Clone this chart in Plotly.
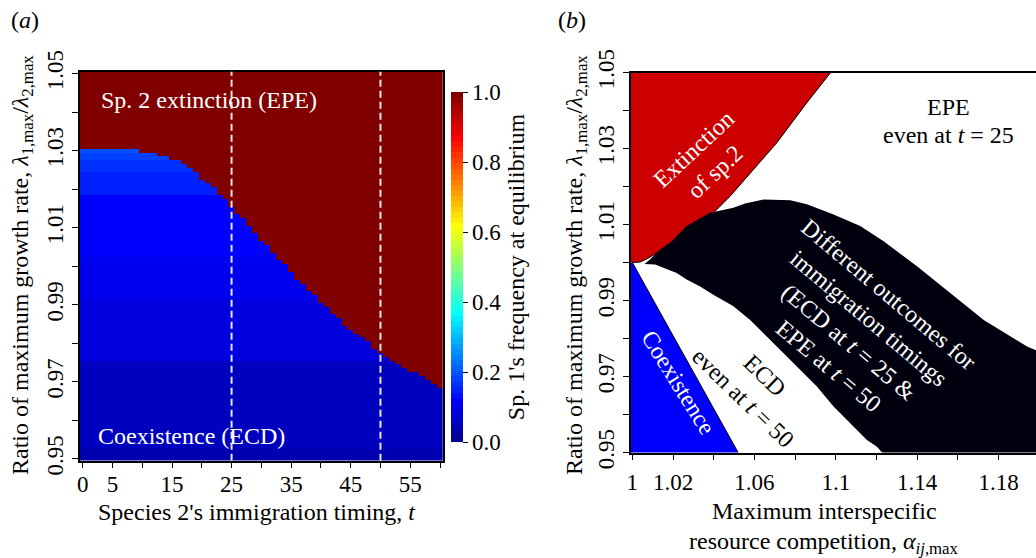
import numpy as np
import plotly.graph_objects as go

W, H = 1036, 558
FONT = "Liberation Serif"

# ---------------- Panel (a) data ----------------
immigration_t = list(range(0, 61))
ratio_grid = [round(0.950 + 0.001 * i, 3) for i in range(101)]
# highest lambda-ratio row still in coexistence (ECD) for each immigration time t = 0..60
ecd_upper_ratio = [
    1.030, 1.030, 1.030, 1.030, 1.030, 1.030, 1.030, 1.030, 1.030, 1.030,
    1.029, 1.029, 1.029, 1.028, 1.028, 1.027, 1.027, 1.026, 1.025, 1.024,
    1.022, 1.021, 1.020, 1.018, 1.017, 1.015, 1.013, 1.012, 1.010, 1.008,
    1.006, 1.005, 1.003, 1.001, 1.000, 0.998, 0.996, 0.995, 0.993, 0.992,
    0.990, 0.989, 0.987, 0.986, 0.984, 0.983, 0.982, 0.981, 0.980, 0.978,
    0.977, 0.976, 0.975, 0.974, 0.973, 0.972, 0.972, 0.971, 0.970, 0.969,
    0.968,
]
# sp.1 frequency inside coexistence region, by lambda-ratio band (upper limit of band)
coex_band_top = [0.952, 0.975, 0.991, 1.002, 1.018, 1.024, 1.027, 1.029, 1.030]
coex_band_freq = [0.04, 0.06, 0.085, 0.10, 0.115, 0.155, 0.17, 0.185, 0.20]
epe_freq = 1.0
dashed_t = [25, 50]

a_xticks = [0, 5, 15, 25, 35, 45, 55]
a_xticklabels = ["0", "5", "15", "25", "35", "45", "55"]
a_xminor = [10, 20, 30, 40, 50, 60]
y_ticks = [0.95, 0.97, 0.99, 1.01, 1.03, 1.05]
y_ticklabels = ["0.95", "0.97", "0.99", "1.01", "1.03", "1.05"]
y_minor = [0.96, 0.98, 1.00, 1.02, 1.04]
cb_ticks = [0.0, 0.2, 0.4, 0.6, 0.8, 1.0]
cb_ticklabels = ["0.0", "0.2", "0.4", "0.6", "0.8", "1.0"]

# ---------------- Panel (b) data ----------------
red_curve_x = [1.000, 1.0038, 1.0080, 1.0136, 1.0243, 1.0366, 1.0480, 1.0595, 1.0710, 1.0857, 1.0975]
red_curve_y = [1.000, 1.0001, 1.0012, 1.0030, 1.0061, 1.0113, 1.0174, 1.0245, 1.0315, 1.0420, 1.0500]
blue_tri_x = [1.000, 1.000, 1.052]
blue_tri_y = [1.000, 0.950, 0.950]
black_upper_x = [1.0060, 1.0087, 1.0128, 1.0194, 1.0267, 1.0382, 1.0497, 1.0554, 1.0645,
                 1.0776, 1.0858, 1.0989, 1.1120, 1.1235, 1.1399, 1.1563, 1.1727, 1.1940, 1.2000]
black_upper_y = [0.9996, 1.0008, 1.0030, 1.0056, 1.0096, 1.0131, 1.0144, 1.0155, 1.0166,
                 1.0164, 1.0153, 1.0126, 1.0096, 1.0056, 0.9990, 0.9920, 0.9849, 0.9779, 0.9765]
black_lower_x = [1.0112, 1.0218, 1.0267, 1.0333, 1.0398, 1.0497, 1.0579, 1.0661, 1.0743,
                 1.0825, 1.0907, 1.0989, 1.1071, 1.1153, 1.1202, 1.1227, 1.2000]
black_lower_y = [0.99945, 0.99725, 0.9955, 0.9937, 0.9915, 0.9885, 0.9849, 0.9806, 0.9762,
                 0.9718, 0.9674, 0.9621, 0.9577, 0.9533, 0.9515, 0.9500, 0.9500]
b_xticks = [1.00, 1.02, 1.06, 1.10, 1.14, 1.18]
b_xticklabels = ["1", "1.02", "1.06", "1.1", "1.14", "1.18"]
b_xminor = [1.04, 1.08, 1.12, 1.16]


# ---------------- colour scale: matlab jet(64) ----------------
def matlab_jet(m=64):
    n = int(np.ceil(m / 4))
    u = np.concatenate([np.arange(1, n + 1) / n, np.ones(n - 1), np.arange(n, 0, -1) / n])
    g = int(np.ceil(n / 2)) - (1 if m % 4 == 1 else 0) + np.arange(1, len(u) + 1)
    r = g + n
    b = g - n
    J = np.zeros((m, 3))
    k = r <= m
    J[r[k] - 1, 0] = u[k]
    k = g <= m
    J[g[k] - 1, 1] = u[k]
    k = b >= 1
    J[b[k] - 1, 2] = u[k]
    return J


jet = matlab_jet(64)
colorscale = []
for i, c in enumerate(jet):
    col = "rgb(%d,%d,%d)" % tuple(int(round(v * 255)) for v in c)
    colorscale.append([i / 64, col])
    colorscale.append([(i + 1) / 64, col])

# ---------------- build heatmap matrix ----------------
z = []
for r in ratio_grid:
    f_r = epe_freq
    for top, f in zip(coex_band_top, coex_band_freq):
        if r <= top + 1e-9:
            f_r = f
            break
    z.append([f_r if r <= b + 1e-9 else epe_freq for b in ecd_upper_ratio])

fig = go.Figure()

fig.add_trace(go.Heatmap(
    x=immigration_t, y=ratio_grid, z=z, zmin=0, zmax=1,
    colorscale=colorscale, xaxis="x", yaxis="y", hoverinfo="skip",
    colorbar=dict(
        thickness=12, thicknessmode="pixels", len=350, lenmode="pixels",
        x=451 / W, xanchor="left", xref="paper", xpad=0,
        y=1 - 267 / H, yanchor="middle", yref="paper", ypad=0,
        tickmode="array", tickvals=cb_ticks, ticktext=cb_ticklabels,
        ticks="outside", ticklen=5, tickcolor="black",
        tickfont=dict(family=FONT, size=23, color="black"),
        outlinewidth=0,
        title=dict(text="Sp. 1's frequency at equilibrium", side="right",
                   font=dict(family=FONT, size=24, color="black")),
    ),
))

# panel (b) regions
fig.add_trace(go.Scatter(
    x=[0.99] + red_curve_x + [red_curve_x[-1] + 0.002, 0.99],
    y=[red_curve_y[0]] + red_curve_y + [1.06, 1.06],
    fill="toself", fillcolor="#CC0000", line=dict(width=0), mode="lines",
    xaxis="x2", yaxis="y2", hoverinfo="skip", showlegend=False))
fig.add_trace(go.Scatter(
    x=red_curve_x, y=red_curve_y, mode="lines", line=dict(color="black", width=1),
    xaxis="x2", yaxis="y2", hoverinfo="skip", showlegend=False))
fig.add_trace(go.Scatter(
    x=[0.99, blue_tri_x[0], blue_tri_x[2], blue_tri_x[2] + 0.001, 0.99],
    y=[blue_tri_y[0], blue_tri_y[0], blue_tri_y[2], 0.94, 0.94],
    fill="toself", fillcolor="#0000FF", line=dict(width=0), mode="lines",
    xaxis="x2", yaxis="y2", hoverinfo="skip", showlegend=False))
fig.add_trace(go.Scatter(
    x=[blue_tri_x[0], blue_tri_x[2]], y=[blue_tri_y[0], blue_tri_y[2]],
    mode="lines", line=dict(color="black", width=1),
    xaxis="x2", yaxis="y2", hoverinfo="skip", showlegend=False))
fig.add_trace(go.Scatter(
    x=black_upper_x + [1.21, 1.21] + black_lower_x[::-1],
    y=black_upper_y + [black_upper_y[-1], 0.94] + [0.94] + black_lower_y[::-1][1:],
    fill="toself", fillcolor="#00000F", line=dict(width=0), mode="lines",
    xaxis="x2", yaxis="y2", hoverinfo="skip", showlegend=False))

axis_common = dict(
    showline=True, linecolor="black", linewidth=1.5, ticks="outside", ticklen=6,
    tickwidth=1, tickcolor="black", showgrid=False, zeroline=False, automargin=False,
    tickfont=dict(family=FONT, size=23, color="black"), tickmode="array",
)


def minor(vals):
    return dict(tickmode="array", tickvals=vals, ticks="outside", ticklen=6,
                tickwidth=1, tickcolor="black", showgrid=False)


ydom_a = [1 - 460.7 / H, 1 - 71.7 / H]
ydom_b = [1 - 452.5 / H, 1 - 72.5 / H]
fig.update_layout(
    template="none",
    width=W, height=H, margin=dict(l=0, r=0, t=0, b=0, autoexpand=False),
    paper_bgcolor="white", plot_bgcolor="white", showlegend=False,
    font=dict(family=FONT, color="black"),
    xaxis=dict(domain=[79.7 / W, 443 / W], range=[-0.5, 60.5], mirror=True,
               tickvals=a_xticks, ticktext=a_xticklabels, anchor="y",
               minor=minor(a_xminor), ticklabelstandoff=-4, **axis_common),
    yaxis=dict(domain=ydom_a, range=[0.9495, 1.0505], mirror=True, tickangle=-90,
               tickvals=y_ticks, ticktext=y_ticklabels, anchor="x",
               minor=minor(y_minor), ticklabelstandoff=0, **axis_common),
    xaxis2=dict(domain=[631 / W, 1.0], range=[0.99936, 1.19838], mirror=True,
                tickvals=b_xticks, ticktext=b_xticklabels, anchor="y2",
                minor=minor(b_xminor), ticklabelstandoff=2, **axis_common),
    yaxis2=dict(domain=ydom_b, range=[0.95, 1.05], mirror=False, tickangle=-90,
                tickvals=y_ticks, ticktext=y_ticklabels, anchor="x2",
                minor=minor(y_minor), ticklabelstandoff=0, **axis_common),
)

for t in dashed_t:
    fig.add_shape(type="line", xref="x", yref="y domain", x0=t, x1=t, y0=0, y1=1,
                  line=dict(color="#E6E6E6", width=2, dash="7px,4px"), layer="above")


def ann(text, x, y, size=24, color="black", angle=0, xanchor="center", yanchor="middle", align="center"):
    fig.add_annotation(text=text, x=x / W, y=1 - y / H, xref="paper", yref="paper",
                       showarrow=False, textangle=angle, xanchor=xanchor, yanchor=yanchor,
                       align=align, font=dict(family=FONT, size=size, color=color))


ann("(<i>a</i>)", 25, 20)
ann("(<i>b</i>)", 572, 20)
ylab = "Ratio of maximum growth rate, <i>λ</i><sub>1,max</sub>/<i>λ</i><sub>2,max</sub>"
ann(ylab, 22, 265, angle=-90)
ann(ylab, 576, 265, angle=-90)
ann("Species 2's immigration timing, <i>t</i>", 257, 512)
ann("Maximum interspecific", 824, 511)
ann("resource competition, <i>α</i><sub><i>ij</i>,max</sub>", 824, 543)

ann("Sp. 2 extinction (EPE)", 99, 100, color="white", xanchor="left")
ann("Coexistence (ECD)", 96, 436, color="white", xanchor="left")

ann("Extinction<br>of sp.2", 704, 160, color="white", angle=-43)
ann("EPE", 948, 107)
ann("even at <i>t</i> = 25", 948, 135)
ann("Coexistence", 678, 382, color="white", angle=58)
ann("ECD<br>even at <i>t</i> = 50", 754, 386, angle=44)
ann("Different outcomes for<br>immigration timings<br>(ECD at <i>t</i> = 25 &amp;<br>EPE at <i>t</i> = 50",
    858, 330, color="white", angle=40)

fig.write_html("out.html", config={"displayModeBar": False},
               post_script="document.body.style.margin='0px';")
